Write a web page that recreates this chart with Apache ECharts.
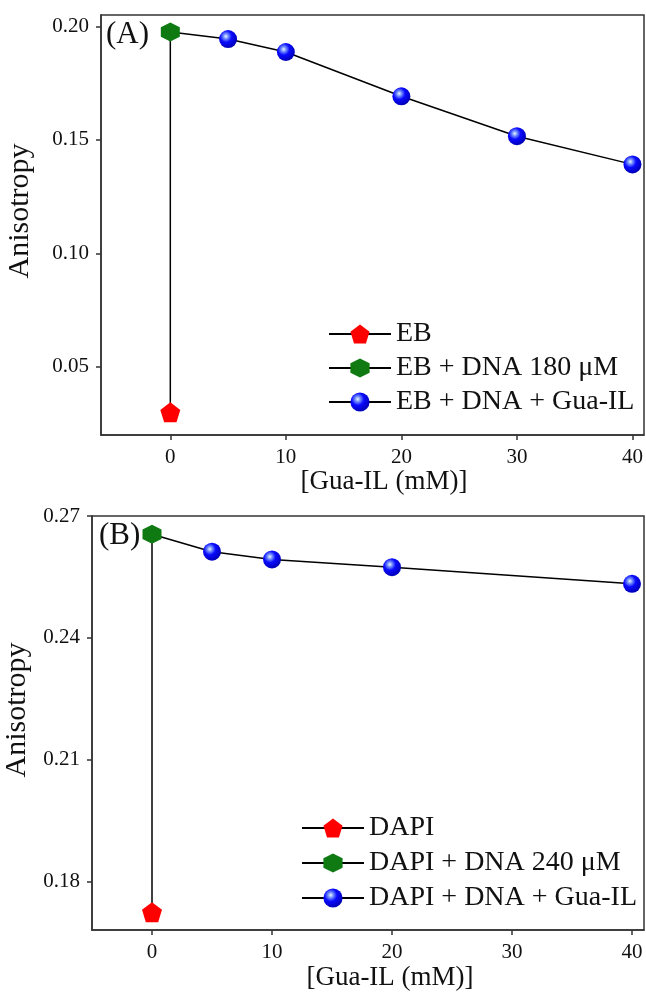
<!DOCTYPE html>
<html>
<head>
<meta charset="utf-8">
<script src="https://cdn.jsdelivr.net/npm/echarts@6/dist/echarts.min.js"></script>
<style>
  html, body { margin: 0; padding: 0; background: #fff; }
  #main { width: 646px; height: 993px; }
</style>
</head>
<body>
<div id="main"></div>
<script>
// panel A: EB
const xA = [5, 10, 20, 30, 40];
const ebFree = 0.030;
const ebDNA = 0.1975;
const ebIL = [0.1944, 0.1887, 0.1692, 0.1516, 0.1392];

// panel B: DAPI
const xB = [5, 10, 20, 40];
const dapiFree = 0.1724;
const dapiDNA = 0.2655;
const dapiIL = [0.2612, 0.2593, 0.2574, 0.2533];

const xTicks = [0, 10, 20, 30, 40];
const yTicksA = [0.05, 0.10, 0.15, 0.20];
const yTicksB = [0.18, 0.21, 0.24, 0.27];

const FONT = '"Liberation Serif", "Times New Roman", serif';
const pentagon = 'path://M0,-10 L9.51,-3.09 L5.88,8.09 L-5.88,8.09 L-9.51,-3.09 Z';
const hexagon = 'path://M0,-10 L8.66,-5 L8.66,5 L0,10 L-8.66,5 L-8.66,-5 Z';
const sphere = {
  type: 'radial', x: 0.38, y: 0.35, r: 0.65,
  colorStops: [
    { offset: 0, color: '#eaf4ff' },
    { offset: 0.22, color: '#6f8cff' },
    { offset: 0.5, color: '#0a0aff' },
    { offset: 1, color: '#0000b8' }
  ]
};

const chart = echarts.init(document.getElementById('main'));

function xAxis(idx, min, nameGap, padLeft) {
  return {
    type: 'value', gridIndex: idx, min: min, max: 41,
    name: '[Gua-IL (mM)]', nameLocation: 'middle', nameGap: nameGap,
    nameTextStyle: { fontFamily: FONT, fontSize: 27, color: '#111', padding: [0, 0, 0, padLeft] },
    axisLine: { show: true, onZero: false, lineStyle: { color: '#333', width: 1.5 } },
    axisTick: { show: true, length: 5, customValues: xTicks, lineStyle: { color: '#333', width: 1.5 } },
    axisLabel: { customValues: xTicks, margin: 12, fontFamily: FONT, fontSize: 21, color: '#111' },
    splitLine: { show: false }
  };
}

function yAxis(idx, min, max, ticks, nameGap, padLeft) {
  return {
    type: 'value', gridIndex: idx, min: min, max: max,
    name: 'Anisotropy', nameLocation: 'middle', nameGap: nameGap, nameRotate: 90,
    nameTextStyle: { fontFamily: FONT, fontSize: 30, color: '#111', padding: [0, 0, 0, padLeft] },
    axisLine: { show: true, onZero: false, lineStyle: { color: '#333', width: 1.5 } },
    axisTick: { show: true, length: 5, customValues: ticks, lineStyle: { color: '#333', width: 1.5 } },
    axisLabel: {
      customValues: ticks, margin: 12, fontFamily: FONT, fontSize: 21, color: '#111',
      formatter: v => v.toFixed(2)
    },
    splitLine: { show: false }
  };
}

function lineStyle() {
  return { color: '#000', width: 1.5 };
}

function buildPanel(idx, names, free, dna, xs, ys) {
  const chain = [
    { value: [0, free], symbol: 'none' },
    { value: [0, dna], symbol: 'none' }
  ].concat(xs.map((x, i) => [x, ys[i]]));
  return [
    {
      name: names[2], type: 'line', xAxisIndex: idx, yAxisIndex: idx,
      data: chain, symbol: 'circle', symbolSize: 18,
      lineStyle: lineStyle(), itemStyle: { color: sphere }, z: 2
    },
    {
      name: names[0], type: 'line', xAxisIndex: idx, yAxisIndex: idx,
      data: [[0, free]], symbol: pentagon, symbolSize: 20,
      lineStyle: lineStyle(), itemStyle: { color: '#ff0000' }, z: 3
    },
    {
      name: names[1], type: 'line', xAxisIndex: idx, yAxisIndex: idx,
      data: [[0, dna]], symbol: hexagon, symbolSize: 19,
      lineStyle: lineStyle(), itemStyle: { color: '#0f7a12' }, z: 3
    }
  ];
}

const namesA = ['EB', 'EB + DNA 180 μM', 'EB + DNA + Gua-IL'];
const namesB = ['DAPI', 'DAPI + DNA 240 μM', 'DAPI + DNA + Gua-IL'];

function legend(names, left, top, gap) {
  return {
    data: names, orient: 'vertical', left: left, top: top,
    itemWidth: 62, itemHeight: 24, itemGap: gap, padding: 0,
    textStyle: { fontFamily: FONT, fontSize: 28, color: '#111', lineHeight: 24 },
    selectedMode: false
  };
}

chart.setOption({
  backgroundColor: '#fff',
  animation: false,
  grid: [
    { left: 101, top: 15, right: 2, height: 420, outerBoundsMode: 'none', show: true, borderColor: '#333', borderWidth: 1.5 },
    { left: 92, top: 516, right: 2, height: 414, outerBoundsMode: 'none', show: true, borderColor: '#333', borderWidth: 1.5 }
  ],
  xAxis: [xAxis(0, -6, 24, 23), xAxis(1, -5, 34, 44)],
  yAxis: [
    yAxis(0, 0.02, 0.205, yTicksA, 66, 28),
    yAxis(1, 0.168, 0.27, yTicksB, 57, 26)
  ],
  legend: [legend(namesA, 328, 320, 6), legend(namesB, 301, 814, 7)],
  graphic: [
    { type: 'text', left: 106, top: 19, style: { text: '(A)', font: '31px ' + FONT, fill: '#111' } },
    { type: 'text', left: 99, top: 520, style: { text: '(B)', font: '31px ' + FONT, fill: '#111' } }
  ],
  series: buildPanel(0, namesA, ebFree, ebDNA, xA, ebIL)
    .concat(buildPanel(1, namesB, dapiFree, dapiDNA, xB, dapiIL))
});
</script>
</body>
</html>
